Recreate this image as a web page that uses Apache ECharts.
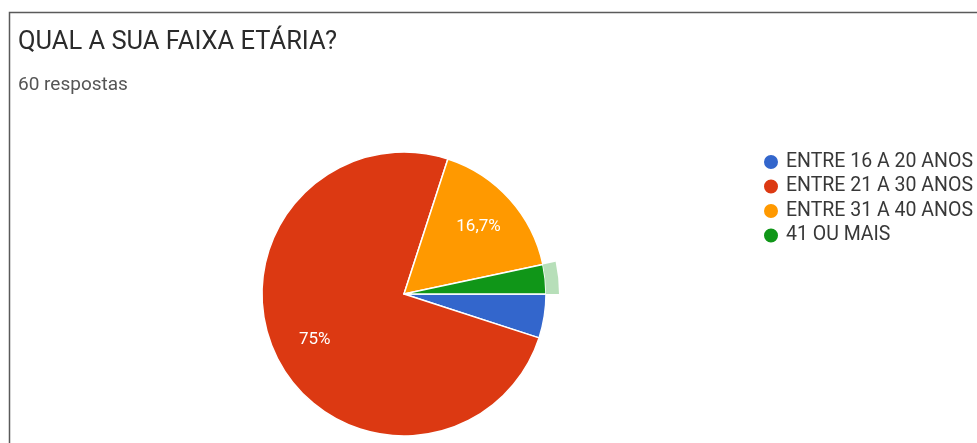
<!DOCTYPE html>
<html>
<head>
<meta charset="utf-8">
<script src="https://cdn.jsdelivr.net/npm/echarts@6/dist/echarts.min.js"></script>
<style>
  html, body { margin: 0; padding: 0; background: #fff; }
  #chart { width: 977px; height: 443px; }
</style>
</head>
<body>
<div id="chart"></div>
<script>
// Survey answers: age bracket of respondents
const categories = ['ENTRE 16 A 20 ANOS', 'ENTRE 21 A 30 ANOS', 'ENTRE 31 A 40 ANOS', '41 OU MAIS'];
const responses = [3, 45, 10, 2];
const totalResponses = 60;
const titleText = 'QUAL A SUA FAIXA ETÁRIA?';
const subtitleText = totalResponses + ' respostas';
const highlighted = '41 OU MAIS';

const palette = ['#3366cc', '#dc3912', '#ff9900', '#109618'];
const FONT = 'Roboto, "Noto Sans", sans-serif';

const sliceData = categories.map((name, i) => ({ name, value: responses[i] }));

const chart = echarts.init(document.getElementById('chart'), null, { renderer: 'canvas' });

const CENTER = [404, 294];
const R = 142;

chart.setOption({
  backgroundColor: '#ffffff',
  animation: false,
  color: palette,
  graphic: [{
    type: 'rect',
    shape: { x: 9.5, y: 12.5, width: 1000, height: 500 },
    style: { fill: 'none', stroke: '#5a5a5a', lineWidth: 1.5 },
    silent: true
  }],
  title: [{
    text: titleText,
    left: 18, top: 30,
    padding: 0,
    textStyle: { fontFamily: FONT, fontSize: 25.5, fontWeight: 'normal', color: '#2b2b2b' }
  }, {
    text: subtitleText,
    left: 18, top: 76,
    padding: 0,
    textStyle: { fontFamily: FONT, fontSize: 19, fontWeight: 'normal', color: '#555' }
  }],
  legend: {
    orient: 'vertical',
    left: 762, top: 152,
    padding: 0,
    icon: 'circle',
    itemWidth: 16, itemHeight: 16,
    itemGap: 4.5,
    data: categories,
    textStyle: { fontFamily: FONT, fontSize: 19.5, color: '#383838', padding: [0, 0, 0, 2] }
  },
  series: [{
    // main pie
    type: 'pie',
    center: CENTER,
    radius: [0, R],
    startAngle: 0,
    clockwise: true,
    silent: true,
    label: { show: false },
    labelLine: { show: false },
    itemStyle: { borderColor: '#fff', borderWidth: 1.5 },
    data: sliceData
  }, {
    // hover ring around the highlighted slice
    type: 'pie',
    center: CENTER,
    radius: [R, R + 13],
    startAngle: 0,
    clockwise: true,
    silent: true,
    legendHoverLink: false,
    label: { show: false },
    labelLine: { show: false },
    data: sliceData.map((d, i) => ({
      name: d.name, value: d.value,
      itemStyle: { color: d.name === highlighted ? 'rgba(16,150,24,0.3)' : 'rgba(0,0,0,0)' }
    }))
  }, {
    // percentage labels for the larger slices
    type: 'pie',
    center: CENTER,
    radius: [0, R * 1.37],
    startAngle: 0,
    clockwise: true,
    silent: true,
    percentPrecision: 1,
    itemStyle: { color: 'rgba(0,0,0,0)' },
    labelLine: { show: false },
    label: {
      show: true,
      position: 'inner',
      fontFamily: FONT,
      fontSize: 17,
      color: '#fff',
      formatter: p => p.percent >= 10 ? String(p.percent).replace('.', ',') + '%' : ''
    },
    data: sliceData.map(d => ({ name: d.name + ' ', value: d.value }))
  }]
});
</script>
</body>
</html>
